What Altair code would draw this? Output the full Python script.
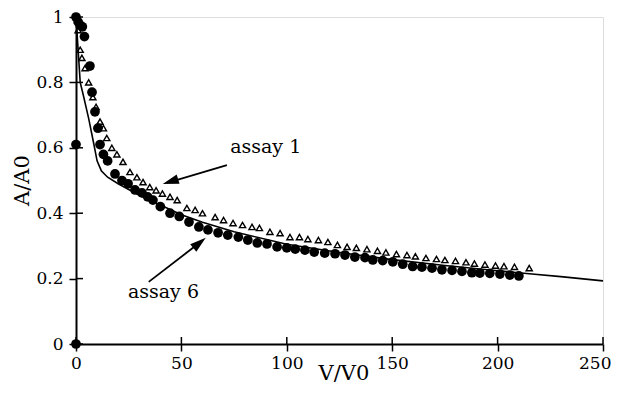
import altair as alt
import pandas as pd

# assay 6 (filled circles)
a6_x = [0, 0, 0, 1, 2, 3, 4, 6.6, 7.6, 9, 10.4, 11.4, 13, 15, 18.5, 21.8, 24.7, 28, 31.3, 34,
        36.5, 40, 44.6, 49, 53.6, 58.3, 62.6, 67.4, 72, 77, 81.5, 86, 90.6, 95.4, 100, 104,
        108.6, 113, 118, 122.9, 127.6, 132.3, 137.1, 140.8, 145.5, 150.3, 155, 159.7, 164.1,
        168.9, 173.6, 178.4, 183.1, 187.8, 191.6, 196.3, 201.1, 205.8, 210.1]
a6_y = [0.0, 0.61, 1.0, 0.985, 0.975, 0.97, 0.94, 0.85, 0.77, 0.71, 0.66, 0.61, 0.58, 0.56, 0.52,
        0.50, 0.49, 0.471, 0.462, 0.45, 0.44, 0.42, 0.40, 0.39, 0.373, 0.358, 0.349, 0.34, 0.333,
        0.327, 0.318, 0.309, 0.306, 0.297, 0.294, 0.29, 0.287, 0.281, 0.278, 0.276, 0.272, 0.266,
        0.264, 0.257, 0.255, 0.251, 0.244, 0.237, 0.235, 0.232, 0.227, 0.225, 0.222, 0.218, 0.217,
        0.216, 0.214, 0.211, 0.208]

# assay 1 (open triangles)
a1_x = [0, 1, 2, 2.8, 4.3, 6, 8, 9.5, 11.4, 13, 14.6, 17, 19.4, 22.3, 25.6, 28.9, 31.8, 35, 38,
        41, 44.6, 48, 52.6, 56.5, 60, 66, 70, 74.5, 79, 83.5, 87, 92, 96.8, 101.5, 106, 110, 115,
        119.5, 124, 128.6, 133, 138, 143, 147, 152, 157, 161, 166, 171, 175, 180, 185, 189, 194,
        199, 203, 208, 215]
a1_y = [1.0, 0.96, 0.90, 0.875, 0.844, 0.80, 0.755, 0.725, 0.68, 0.66, 0.63, 0.60, 0.58, 0.557,
        0.526, 0.51, 0.495, 0.48, 0.47, 0.46, 0.45, 0.44, 0.416, 0.41, 0.40, 0.388, 0.379, 0.37,
        0.364, 0.358, 0.355, 0.343, 0.339, 0.327, 0.327, 0.321, 0.318, 0.312, 0.303, 0.297, 0.294,
        0.290, 0.285, 0.28, 0.275, 0.272, 0.268, 0.263, 0.26, 0.257, 0.254, 0.25, 0.246, 0.243,
        0.24, 0.238, 0.236, 0.232]

# model curve (solid line)
fit_x = [0, 1, 2, 3.5, 6, 8.5, 10, 12, 15, 20, 30, 40, 50, 60, 75, 100, 125, 150, 175, 200, 215, 230, 250]
fit_y = [1.0, 0.9, 0.8, 0.76, 0.69, 0.61, 0.56, 0.53, 0.51, 0.49, 0.455, 0.425, 0.395, 0.372,
         0.343, 0.305, 0.28, 0.258, 0.24, 0.224, 0.215, 0.206, 0.193]

x_ticks = [0, 50, 100, 150, 200, 250]
y_ticks = [0, 0.2, 0.4, 0.6, 0.8, 1]

# annotations (text baseline positions and arrows)
ann_text = ["assay 1", "assay 6"]
ann_tx = [90, 41.5]
ann_ty = [0.584, 0.141]
arr_x1 = [71.6, 34.5]
arr_y1 = [0.547, 0.19]
arr_x2 = [44.0, 59.5]
arr_y2 = [0.494, 0.314]
head_x = [44.8, 58.6]
head_y = [0.497, 0.309]
head_angle = [252.6, 50.7]

W, H = 527, 327
FONT = "DejaVu Serif"

xs = alt.Scale(domain=[0, 250], nice=False, zero=False)
ys = alt.Scale(domain=[0, 1], nice=False)

pts6 = pd.DataFrame({"x": a6_x, "y": a6_y})
pts1 = pd.DataFrame({"x": a1_x, "y": a1_y})
fit = pd.DataFrame({"x": fit_x, "y": fit_y})
xt = pd.DataFrame({"v": x_ticks})
yt = pd.DataFrame({"v": y_ticks})
ann = pd.DataFrame({"t": ann_text, "x": ann_tx, "y": ann_ty})
arr = pd.DataFrame({"x": arr_x1, "y": arr_y1, "x2": arr_x2, "y2": arr_y2})
heads = pd.DataFrame({"x": head_x, "y": head_y, "a": head_angle})

base_x = alt.X("x:Q", scale=xs, axis=alt.Axis(
    title="V/V0", values=x_ticks, grid=False, domainColor="black", domainWidth=2,
    tickColor="black", tickWidth=1.5, tickSize=7, labelPadding=4,
    labelFont=FONT, labelFontSize=17, labelColor="black", labelFlush=False,
    labelAlign=alt.condition("datum.value == 250", alt.value("right"), alt.value("center")),
    labelOffset=alt.condition("datum.value == 250", alt.value(8), alt.value(0)),
    titleFont=FONT, titleFontSize=21, titleFontWeight="normal", titleColor="black",
    titleBaseline="alphabetic", titleY=35, titleX=W * 0.5 + 4))
base_y = alt.Y("y:Q", scale=ys, axis=alt.Axis(
    title="A/A0", values=y_ticks, format="~g", grid=False, domainColor="black", domainWidth=2,
    tickColor="black", tickWidth=1.5, tickSize=7, labelPadding=6,
    labelFont=FONT, labelFontSize=17, labelColor="black", labelFlush=False,
    titleFont=FONT, titleFontSize=21, titleFontWeight="normal", titleColor="black",
    titleBaseline="alphabetic", titleAngle=270, titleX=-48, titleY=163))

line = alt.Chart(fit).mark_line(color="black", strokeWidth=1.6).encode(x=base_x, y=base_y)

tri = alt.Chart(pts1).mark_point(shape="triangle-up", filled=False, color="black",
                                 strokeWidth=1.4, size=38, opacity=1).encode(
    x=alt.X("x:Q", scale=xs), y=alt.Y("y:Q", scale=ys))

circ = alt.Chart(pts6).mark_circle(color="black", size=95, opacity=1).encode(
    x=alt.X("x:Q", scale=xs), y=alt.Y("y:Q", scale=ys))

xin = alt.Chart(xt).mark_rule(color="black", strokeWidth=1.5).encode(
    x=alt.X("v:Q", scale=xs), y=alt.value(H - 7), y2=alt.value(H))
yin = alt.Chart(yt).mark_rule(color="black", strokeWidth=1.5).encode(
    y=alt.Y("v:Q", scale=ys), x=alt.value(0), x2=alt.value(7))

arrows = alt.Chart(arr).mark_rule(color="black", strokeWidth=1.8).encode(
    x=alt.X("x:Q", scale=xs), y=alt.Y("y:Q", scale=ys), x2="x2:Q", y2="y2:Q")
arrowheads = alt.Chart(heads).mark_point(
    shape="M0,-1L-0.6,1L0.6,1Z", filled=True, color="black", size=260, opacity=1).encode(
    x=alt.X("x:Q", scale=xs), y=alt.Y("y:Q", scale=ys), angle=alt.Angle("a:Q", scale=None))

labels = alt.Chart(ann).mark_text(font=FONT, fontSize=19, color="black", align="center",
                                  baseline="alphabetic").encode(
    x=alt.X("x:Q", scale=xs), y=alt.Y("y:Q", scale=ys), text="t:N")

chart = alt.layer(line, xin, yin, tri, circ, arrows, arrowheads, labels).properties(
    width=W, height=H,
    autosize=alt.AutoSizeParams(type="none"),
    padding={"left": 68, "top": 9, "right": 8, "bottom": 40},
).configure_view(stroke="#999999", strokeWidth=2).configure(background="white", font=FONT)

chart.save("out.html", embed_options={"renderer": "svg", "actions": False})
